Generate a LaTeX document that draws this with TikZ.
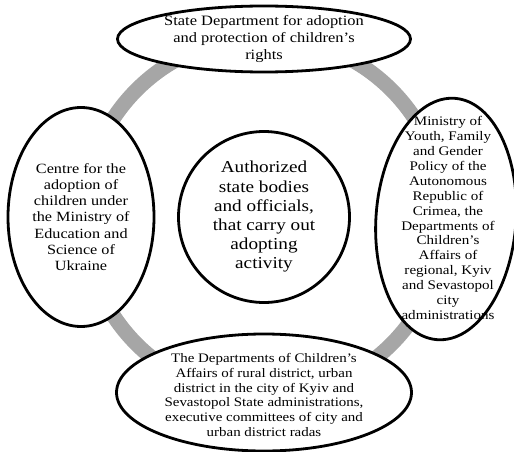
\documentclass[tikz,border=0pt]{standalone}
\usepackage{fontspec}
\setmainfont[FakeStretch=1.15]{Liberation Serif}
\usetikzlibrary{shapes.geometric}
\definecolor{ringgray}{RGB}{166,166,166}
\begin{document}
\begin{tikzpicture}[x=1pt,y=-1pt,
  oval/.style={ellipse,draw=black,line width=2.8pt,fill=white,inner sep=0pt,outer sep=0pt},
  lbl/.style={align=center,inner sep=0pt,text=black},
  ring/.style={ringgray,line width=15pt}]
\useasboundingbox (0,0) rectangle (514,452);
\coordinate (mid) at (264,217);
% gray ring behind everything
\draw[ring] (mid) circle[radius=180];
% central circle
\node[circle,draw=black,line width=2.8pt,fill=white,minimum size=171pt,inner sep=0pt] (hub) at (mid) {};
% outer ellipses
\node[oval,minimum width=293pt,minimum height=66pt] (top) at (264,39) {};
\node[oval,minimum width=146pt,minimum height=219pt] (left) at (81,217) {};
\node[oval,minimum width=140pt,minimum height=242pt,rotate=-4.2] (right) at (446,219) {};
\node[oval,minimum width=295pt,minimum height=117pt] (bottom) at (264,392.5) {};
% texts
\node[lbl,font=\fontsize{14.3}{16.7}\selectfont] (toptxt) at (top.center) {State Department for adoption\\and protection of children’s\\rights};
\node[lbl,font=\fontsize{14.1}{16.2}\selectfont] (lefttxt) at (left.center) {Centre for the\\adoption of\\children under\\the Ministry of\\Education and\\Science of\\Ukraine};
\node[lbl,font=\fontsize{16.7}{19.2}\selectfont] (hubtxt) at (hub.center) {Authorized\\state bodies\\and officials,\\that carry out\\adopting\\activity};
\node[lbl,font=\fontsize{13.1}{14.9}\selectfont] (righttxt) at (448,218) {Ministry of\\Youth, Family\\and Gender\\Policy of the\\Autonomous\\Republic of\\Crimea, the\\Departments of\\Children’s\\Affairs of\\regional, Kyiv\\and Sevastopol\\city\\administrations};
\node[lbl,font=\fontsize{13}{14.9}\selectfont] (bottomtxt) at (264,395) {The Departments of Children’s\\Affairs of rural district, urban\\district in the city of Kyiv and\\Sevastopol State administrations,\\executive committees of city and\\urban district radas};
\end{tikzpicture}
\end{document}
